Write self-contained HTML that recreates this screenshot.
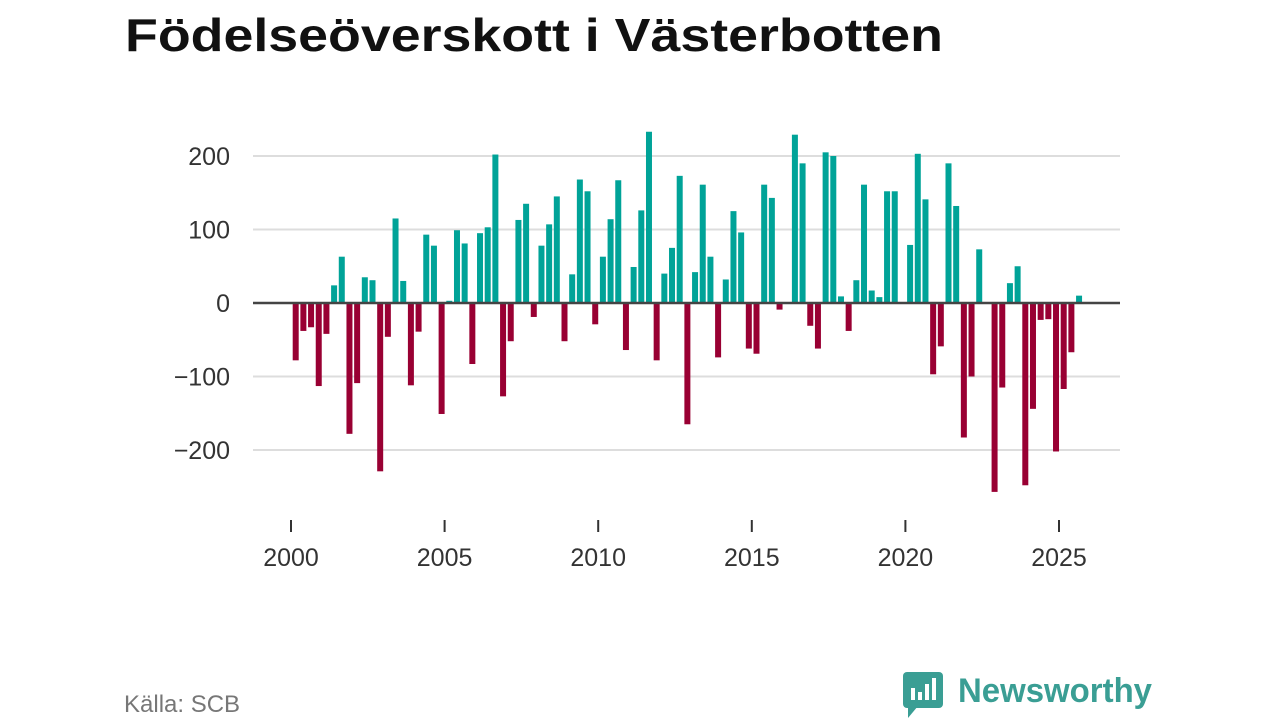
<!DOCTYPE html>
<html><head><meta charset="utf-8"><style>
html,body{margin:0;padding:0;background:#fff;}
svg{display:block;font-family:"Liberation Sans",sans-serif;}
</style></head><body>
<svg id="chart" width="1280" height="720" viewBox="0 0 1280 720" xmlns="http://www.w3.org/2000/svg">
<text x="125" y="51" font-size="46" font-weight="bold" fill="#111" textLength="818" lengthAdjust="spacingAndGlyphs">Födelseöverskott i Västerbotten</text>
<g id="grid"></g>
<g id="bars"></g>
<g id="axes"></g>
<text x="124" y="712" font-size="24" fill="#777">Källa: SCB</text>
<g>
<rect x="903" y="672" width="40" height="36" rx="4" fill="#3a9e94"/>
<polygon points="908,706 918,706 908,718" fill="#3a9e94"/>
<rect x="911" y="688" width="4" height="12" fill="#fff"/>
<rect x="918" y="692" width="4" height="8" fill="#fff"/>
<rect x="925" y="684" width="4" height="16" fill="#fff"/>
<rect x="932" y="678" width="4" height="22" fill="#fff"/>
<text x="958" y="702" font-size="34" font-weight="bold" fill="#3a9e94" textLength="194" lengthAdjust="spacingAndGlyphs">Newsworthy</text>
</g>
</svg>
<script>
const startYear = 2000;
const values = [-78,-38,-33,-113,-42,24,63,-178,-109,35,31,-229,-46,115,30,-112,-39,93,78,-151,3,99,81,-83,95,103,202,-127,-52,113,135,-19,78,107,145,
-52,39,168,152,-29,63,114,167,-64,49,126,233,-78,40,75,173,-165,42,161,63,-74,32,125,96,-62,-69,161,143,-9,0,229,190,-31,-62,205,
200,9,-38,31,161,17,8,152,152,0,79,203,141,-97,-59,190,132,-183,-100,73,0,-257,-115,27,50,-248,-144,-23,-22,-202,-117,-67,10];
const yTicks = [200,100,0,-100,-200];
const yTickLabels = ["200","100","0","\u2212100","\u2212200"];
const xTicks = [2000,2005,2010,2015,2020,2025];

const NS="http://www.w3.org/2000/svg";
const X0=253, X1=1120;
function xScale(yr){return 291+(yr-2000)*30.72;}
function yScale(v){return 303-v*0.735;}
function mk(tag,attrs,parent){const e=document.createElementNS(NS,tag);for(const k in attrs)e.setAttribute(k,attrs[k]);parent.appendChild(e);return e;}
const grid=document.getElementById('grid'), bars=document.getElementById('bars'), axes=document.getElementById('axes');
yTicks.forEach((t,i)=>{
  if(t!==0){const l=mk('line',{x1:X0,x2:X1,y1:yScale(t),y2:yScale(t),stroke:'#dddddd','stroke-width':2},grid);
  
  }
  const tx=mk('text',{x:230,y:yScale(t)+9,'text-anchor':'end','font-size':25,fill:'#333'},axes);
  tx.textContent=yTickLabels[i];
  
  
});
values.forEach((v,i)=>{
  const c=xScale(startYear+i/4)+4.7;
  const y0=yScale(0), y1=yScale(v);
  const r=mk('rect',{x:c-3,y:Math.min(y0,y1),width:6,height:Math.abs(y1-y0),fill:v>=0?'#00a398':'#990033'},bars);
  
  
});
const z=mk('line',{x1:X0,x2:X1,y1:yScale(0),y2:yScale(0),stroke:'#444','stroke-width':2.5},axes);


xTicks.forEach(t=>{
  const tk=mk('line',{x1:xScale(t),x2:xScale(t),y1:520,y2:532,stroke:'#333','stroke-width':2},axes);
  
  
  const tx=mk('text',{x:xScale(t),y:566,'text-anchor':'middle','font-size':25,fill:'#333'},axes);
  tx.textContent=t;
  
  
});
</script>
</body></html>
